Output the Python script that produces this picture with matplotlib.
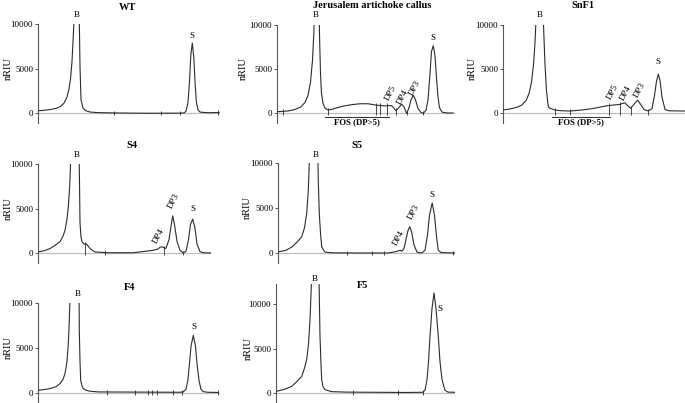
import numpy as np
import matplotlib
matplotlib.use("Agg")
import matplotlib.pyplot as plt

plt.rcParams['font.family'] = ['Liberation Serif', 'DejaVu Serif']

# ---- traces: (retention position, nRIU) ----
wt = [(0, 250), (6, 300), (12, 380), (18, 520), (22, 700), (26, 1100), (29, 1800), (31, 2700),
      (32.5, 3800), (34, 5800), (35, 8000), (36, 10500), (36.5, 12000),
      (41, 12000), (41.5, 9000), (42, 5200), (43, 1500), (45, 560), (48, 250), (52, 110), (60, 40),
      (80, 0), (110, -30), (140, -20), (146, 0), (148, 200), (150, 1200), (151.5, 3500), (152.8, 6500),
      (154.3, 7850), (155.8, 6300), (157, 3500), (158.3, 1300), (160, 350), (162, 100), (170, 30), (181, 50)]
wt_marks = [76, 123, 142, 180]

ja = [(0, 150), (6, 180), (12, 250), (18, 400), (24, 700), (28, 1200), (31, 2000), (33.5, 3500),
      (35.5, 6000), (36.8, 9000), (37.5, 12000),
      (42, 12000), (42.7, 8000), (43.5, 4500), (44.5, 2200), (46, 1100), (48, 560), (51, 340), (55, 420),
      (60, 600), (67, 800), (75, 950), (83, 1050), (91, 1050), (99, 900), (103, 850), (108, 800),
      (111.5, 850), (114.7, 820), (117, 550), (119, 260), (121, 500), (124.7, 1000), (127, 700),
      (129.7, -50), (132, 600), (134, 1500), (136.3, 2020), (138.5, 1500), (141, 500), (144, 50),
      (146.3, -30), (149, 300), (151, 1500), (153, 4500), (154.5, 7000), (156.3, 7650), (158, 6500),
      (159.5, 4000), (161, 1800), (162.5, 600), (165, 100), (170, 0), (176, 0)]
ja_marks = [6, 51, 98.7, 103, 110.3, 118.7, 129.7, 146.3]

snf1 = [(0, 340), (8, 480), (14, 650), (18.7, 900), (23, 1400), (26, 2200), (28.5, 3500), (30.5, 5500),
        (32, 8000), (33, 10500), (33.5, 12000),
        (40, 12000), (40.5, 10000), (42, 5500), (43.5, 2500), (45.3, 700), (47, 530), (52, 340),
        (58, 260), (67, 225), (80, 350), (92, 550), (103.7, 820), (112, 920), (117, 980), (120, 1100),
        (122, 1160), (124, 900), (127.7, 530), (131, 1000), (134.7, 1460), (137.5, 1000), (141, 400),
        (145.3, 225), (149, 500), (151.5, 2000), (153.5, 3600), (155.3, 4420), (157, 3700), (159, 1800),
        (162, 400), (166, 250), (182, 225)]
snf1_marks = [52, 67, 106.3, 117, 127.7, 145.3]

s4 = [(0, 120), (6, 250), (12, 500), (17, 850), (22, 1270), (25, 1900), (27, 2560), (29, 3800),
      (30.3, 5200), (31.7, 7500), (32.7, 10500), (33, 12000),
      (41, 12000), (41.5, 8000), (42, 3380), (43, 1800), (44, 1270), (46, 1000), (48, 1050), (50, 800),
      (52, 500), (55, 250), (57, 120), (70, 30), (95, 30), (108, 200), (115, 300), (120, 450),
      (122, 640), (124, 700), (126, 600), (127, 500), (128, 550), (131, 1500), (133, 3000),
      (134.7, 4170), (136.5, 3200), (139, 1300), (142, 300), (145.3, 0), (148, 200), (150.5, 1500),
      (152.5, 3200), (154.7, 3800), (157, 2800), (159, 1000), (162, 150), (166, 20), (173, 0)]
s4_marks = [47, 67, 126.3, 145.3]

s5 = [(0, 120), (8, 300), (14, 680), (19, 1200), (23.7, 1800), (26.5, 2800), (28.7, 4400),
      (30.3, 7000), (31.3, 10000), (31.7, 12000),
      (39.7, 12000), (40.3, 8000), (41.3, 4400), (42.5, 2200), (43.7, 680), (47, 100), (55, 20),
      (80, 0), (110, 0), (118, 150), (122, 300), (124, 200), (126, 500), (128, 1500), (130, 2500),
      (131.7, 2930), (133.5, 2400), (136, 900), (139, 100), (143.7, 0), (147, 300), (149.5, 2000),
      (151.5, 4200), (154.2, 5560), (156.5, 4200), (158.5, 1800), (160.3, 300), (163, 50), (177, 0)]
s5_marks = [68.7, 93.7, 106.3, 175.3]

f4 = [(0, 300), (6, 380), (12, 490), (18, 700), (22, 1040), (25, 1500), (27, 2150), (29, 3500),
      (30.3, 5480), (31.3, 8000), (32, 10500), (32.3, 12000),
      (41, 12000), (41.3, 7000), (42, 3500), (42.7, 1400), (44, 800), (45.3, 490), (48, 300),
      (52, 200), (60, 120), (100, 100), (140, 80), (145, 100), (148, 400), (150, 1500), (151.5, 3300),
      (153, 5200), (155.3, 6400), (157.5, 5200), (159, 3300), (161, 1400), (163, 400), (165.3, 150),
      (170, 80), (180, 60)]
f4_marks = [68.7, 97, 110.3, 113.7, 118.7, 135.3, 143.7, 180.3]

f5 = [(0, 180), (8, 400), (15.7, 740), (20, 1200), (25.7, 1860), (28.5, 2800), (30.7, 3740),
      (32.5, 5500), (34, 8200), (35.3, 12000), (35.7, 13000),
      (43, 13000), (43.3, 11000), (44, 6360), (45, 3200), (45.7, 1500), (47, 700), (49, 370),
      (55.7, 150), (70, 100), (100, 80), (130, 60), (146.7, 80), (149, 300), (151, 1500),
      (152.5, 3500), (154, 6360), (156, 9500), (158, 11240), (160, 9500), (162.3, 6360), (164, 3500),
      (166, 1500), (169, 300), (172, 100), (179, 80)]
f5_marks = [76.7, 122.3, 146.7]

# peak labels: (text, x, y, rotation)
wt_labels = [("B", 38.5, 11000, 0), ("S", 154.3, 8700, 0)]
ja_labels = [("B", 38.7, 11100, 0), ("DP5", 113.7, 2270, 62), ("DP4", 125.7, 1850, 62),
             ("DP3", 138, 2840, 62), ("S", 156.3, 8520, 0)]
snf1_labels = [("B", 37, 11100, 0), ("DP5", 109.7, 2420, 62), ("DP4", 123, 2240, 62),
               ("DP3", 136.3, 2610, 62), ("S", 155.3, 5830, 0)]
s4_labels = [("B", 38.7, 11000, 0), ("DP4", 120.3, 1910, 62), ("DP3", 135.3, 5880, 62),
             ("S", 155.3, 4910, 0)]
s5_labels = [("B", 37.7, 10900, 0), ("DP4", 120.3, 1630, 62), ("DP3", 135.3, 4560, 62),
             ("S", 154.3, 6440, 0)]
f4_labels = [("B", 39.3, 11000, 0), ("S", 156, 7300, 0)]
f5_labels = [("B", 39, 12800, 0), ("S", 164, 9440, 0)]

# FOS (DP>5) bracket: start, end
ja_fos = (48, 112)
snf1_fos = (48.7, 107)

titles = ["WT", "Jerusalem artichoke callus", "SnF1", "S4", "S5", "F4", "F5"]
traces = [wt, ja, snf1, s4, s5, f4, f5]
marks = [wt_marks, ja_marks, snf1_marks, s4_marks, s5_marks, f4_marks, f5_marks]
labels = [wt_labels, ja_labels, snf1_labels, s4_labels, s5_labels, f4_labels, f5_labels]
fos = [None, ja_fos, snf1_fos, None, None, None, None]

# layout in pixels: left, right, y of 0, y of 10000, ylim top, title xy, ylabel x
W, H = 685, 403
boxes = [
    (38, 220, 113, 24, 10000, (127, 7), 8),
    (277, 455, 113, 25, 10000, (372, 6), 243),
    (503, 685, 113, 25, 10000, (583, 6), 472),
    (38, 211, 253, 164, 10000, (132, 145), 8),
    (278, 455, 253, 163, 10000, (357, 145), 247),
    (38, 220, 393, 303, 10000, (130, 287), 8),
    (276, 455, 393, 304, 12200, (363, 286), 248),
]
ybot = -1100
curve_c = "#2b2b2b"

fig = plt.figure(figsize=(W / 100, H / 100), dpi=100)

for i in range(7):
    left, right, y0, y1, ytop, tpos, ylx = boxes[i]
    sc = (y0 - y1) / 10000.0
    top_px = y1 - (ytop - 10000) * sc
    bot_px = y0 - ybot * sc
    ax = fig.add_axes([left / W, 1 - bot_px / H, (right - left) / W, (bot_px - top_px) / H])
    ax.set_xlim(0, right - left)
    ax.set_ylim(ybot, ytop)
    for s in ["top", "right", "bottom"]:
        ax.spines[s].set_visible(False)
    ax.spines["left"].set_color("#555555")
    ax.spines["left"].set_linewidth(0.8)
    ax.set_xticks([])
    ax.set_yticks([0, 5000, 10000])
    ax.tick_params(axis="y", labelsize=6.5, length=2.5, width=0.7, color="#555555", pad=1)

    ax.axhline(0, color="#bdbdbd", lw=0.9, zorder=1)
    x = np.array([p[0] for p in traces[i]])
    y = np.array([p[1] for p in traces[i]])
    ax.plot(x, y, color=curve_c, lw=0.8, zorder=3)

    mk = np.array(marks[i])
    h = np.interp(mk, x, y)
    ax.vlines(mk, -250, np.maximum(h, 0) + 250, color=curve_c, lw=0.6, zorder=3)

    for txt, lx, ly, rot in labels[i]:
        ax.text(lx, ly, txt, fontsize=6.5, ha="center", va="center", rotation=rot, clip_on=False)

    if fos[i] is not None:
        a, b = fos[i]
        ax.plot([a, b], [-450, -450], color=curve_c, lw=0.7, clip_on=False)
        ax.text((a + b) / 2, -1050, "FOS (DP>5)", fontsize=6.3, fontweight="bold",
                ha="center", va="center", clip_on=False)

    fig.text(tpos[0] / W, 1 - tpos[1] / H, titles[i], fontsize=7.5, fontweight="bold",
             ha="center", va="center")
    fig.text(ylx / W, 1 - ((y0 + y1) / 2) / H, "nRIU", fontsize=7.5, rotation=90,
             ha="center", va="center")

fig.savefig("out.png", dpi=100)
